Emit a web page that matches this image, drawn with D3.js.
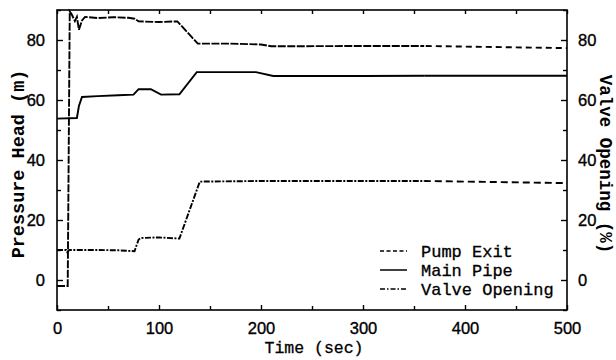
<!DOCTYPE html>
<html>
<head>
<meta charset="utf-8">
<script src="https://cdn.jsdelivr.net/npm/d3@7"></script>
<style>
  html, body { margin: 0; padding: 0; background: #fff; }
  svg { display: block; }
</style>
</head>
<body>
<svg id="chart" width="616" height="360"></svg>
<script>
// ---------- data ----------
const timeTicks = [0, 100, 200, 300, 400, 500];
const timeMinorTicks = [50, 150, 250, 350, 450];
const headTicks = [0, 20, 40, 60, 80];
const headMinorTicks = [-10, 10, 30, 50, 70, 90];
const valveTicks = [0, 20, 40, 60, 80];

const seriesNames = ["Pump Exit", "Main Pipe", "Valve Opening"];

const pumpExitT = [0, 10.5, 12.5, 14.5, 17.5, 19.5, 21.5, 24.5, 27.5, 40, 55, 70, 76, 80, 100, 118, 138, 170, 200, 210, 300, 360, 500];
const pumpExitV = [-2, -2, 89.5, 88.5, 86.3, 87.7, 83.4, 86.5, 87.7, 87.3, 87.6, 87.4, 87.1, 86.2, 86.0, 86.2, 78.8, 78.8, 78.5, 77.9, 78.0, 78.0, 77.3];

const mainPipeT = [0, 19.5, 21.5, 24.5, 40, 60, 75, 80, 92, 102, 120, 137, 195, 212, 300, 400, 500];
const mainPipeV = [53.8, 54.0, 58.0, 61.0, 61.3, 61.6, 61.8, 63.6, 63.6, 61.8, 61.9, 69.3, 69.3, 68.0, 68.0, 68.1, 68.1];

const valveT = [0, 9, 10, 12, 40, 60, 76, 80, 82, 100, 120, 140, 200, 300, 360, 500];
const valveV = [10, 10, 9.3, 10, 10, 9.9, 9.6, 13.5, 14, 14.2, 13.8, 32.8, 33, 33, 33, 32.3];

(function () {
// ---------- layout ----------
const svg = d3.select("#chart");
const pL = 57, pR = 567, pT = 10, pB = 310;
const x = d3.scaleLinear().domain([0, 500]).range([pL, pR]);
const y = d3.scaleLinear().domain([-10, 90]).range([pB, pT]);

const numFont = "'Liberation Sans', Arial, sans-serif";
const monoFont = "'Liberation Mono', 'Courier New', monospace";

// clip regions: the recorded traces look denser before ~360 s and clearly dashed after
const defs = svg.append("defs");
const splitT = 360;
defs.append("clipPath").attr("id", "clipA").append("rect")
  .attr("x", 0).attr("y", 0).attr("width", x(splitT)).attr("height", 360);
defs.append("clipPath").attr("id", "clipB").append("rect")
  .attr("x", x(splitT)).attr("y", 0).attr("width", 616 - x(splitT)).attr("height", 360);

// frame
svg.append("rect")
  .attr("x", pL).attr("y", pT)
  .attr("width", pR - pL).attr("height", pB - pT)
  .attr("fill", "none").attr("stroke", "#000").attr("stroke-width", 1.6);

function styleAxis(g) {
  g.select(".domain").remove();
  g.selectAll(".tick line").attr("stroke", "#000").attr("stroke-width", 1.4);
  g.selectAll(".tick text").attr("fill", "#000")
    .attr("stroke", "#000").attr("stroke-width", 0.35)
    .style("font-family", numFont).style("font-size", "16.5px");
}

// bottom axis (inward ticks)
svg.append("g").attr("transform", `translate(0,${pB})`)
  .call(d3.axisBottom(x).tickValues(timeTicks).tickFormat(d3.format("d")).tickSizeInner(-5).tickSizeOuter(0).tickPadding(12))
  .call(styleAxis);
svg.append("g").attr("transform", `translate(0,${pB})`)
  .call(d3.axisBottom(x).tickValues(timeMinorTicks).tickFormat("").tickSizeInner(-4).tickSizeOuter(0))
  .call(styleAxis);
// top axis
svg.append("g").attr("transform", `translate(0,${pT})`)
  .call(d3.axisTop(x).tickValues(timeTicks.concat(timeMinorTicks)).tickFormat("").tickSizeInner(-4).tickSizeOuter(0))
  .call(styleAxis);

// left axis
svg.append("g").attr("transform", `translate(${pL},0)`)
  .call(d3.axisLeft(y).tickValues(headTicks).tickFormat(d3.format("d")).tickSizeInner(-6).tickSizeOuter(0).tickPadding(12))
  .call(styleAxis);
svg.append("g").attr("transform", `translate(${pL},0)`)
  .call(d3.axisLeft(y).tickValues(headMinorTicks).tickFormat("").tickSizeInner(-4).tickSizeOuter(0))
  .call(styleAxis);

// right axis
svg.append("g").attr("transform", `translate(${pR},0)`)
  .call(d3.axisRight(y).tickValues(valveTicks).tickFormat(d3.format("d")).tickSizeInner(-6).tickSizeOuter(0).tickPadding(11))
  .call(styleAxis);
svg.append("g").attr("transform", `translate(${pR},0)`)
  .call(d3.axisRight(y).tickValues(headMinorTicks).tickFormat("").tickSizeInner(-4).tickSizeOuter(0))
  .call(styleAxis);

// axis titles
svg.append("text")
  .attr("transform", `translate(24,${(pT + pB) / 2 + 4}) rotate(-90)`)
  .attr("text-anchor", "middle")
  .style("font-family", monoFont).style("font-size", "18.5px").style("font-weight", "bold")
  .text("Pressure Head (m)");

svg.append("text")
  .attr("transform", `translate(600,${(pT + pB) / 2 + 4}) rotate(90)`)
  .attr("text-anchor", "middle")
  .style("font-family", monoFont).style("font-size", "17.5px").style("font-weight", "bold")
  .text("Valve Opening (%)");

svg.append("text")
  .attr("x", (pL + pR) / 2 + 2).attr("y", 353)
  .attr("text-anchor", "middle")
  .style("font-family", monoFont).style("font-size", "16.5px")
  .attr("stroke", "#000").attr("stroke-width", 0.3)
  .text("Time (sec)");

// ---------- series ----------
const series = [
  { name: seriesNames[0], t: pumpExitT, v: pumpExitV, dashA: "8,1.5", dashB: "6,4", legDash: "4,2.5" },
  { name: seriesNames[1], t: mainPipeT, v: mainPipeV, dashA: null, dashB: null, legDash: null },
  { name: seriesNames[2], t: valveT, v: valveV, dashA: "6,1.5,2,1.5", dashB: "7,4", legDash: "5,2,1.5,2" }
];

const line = d3.line().x(d => x(d[0])).y(d => y(d[1]));

series.forEach(s => {
  const pts = s.t.map((t, i) => [t, s.v[i]]);
  [["clipA", s.dashA], ["clipB", s.dashB]].forEach(([clip, dash]) => {
    svg.append("path")
      .datum(pts)
      .attr("d", line)
      .attr("clip-path", `url(#${clip})`)
      .attr("fill", "none")
      .attr("stroke", "#000")
      .attr("stroke-width", 1.9)
      .attr("stroke-dasharray", dash);
  });
});

// ---------- legend ----------
const legend = svg.append("g");
const legBase = [257, 276, 295];
series.forEach((s, i) => {
  legend.append("line")
    .attr("x1", 380).attr("x2", 407)
    .attr("y1", legBase[i] - 6).attr("y2", legBase[i] - 6)
    .attr("stroke", "#000").attr("stroke-width", 1.5)
    .attr("stroke-dasharray", s.legDash);
  legend.append("text")
    .attr("x", 421).attr("y", legBase[i])
    .style("font-family", monoFont).style("font-size", "17px")
    .attr("stroke", "#000").attr("stroke-width", 0.3)
    .text(s.name);
});
})();
</script>
</body>
</html>
